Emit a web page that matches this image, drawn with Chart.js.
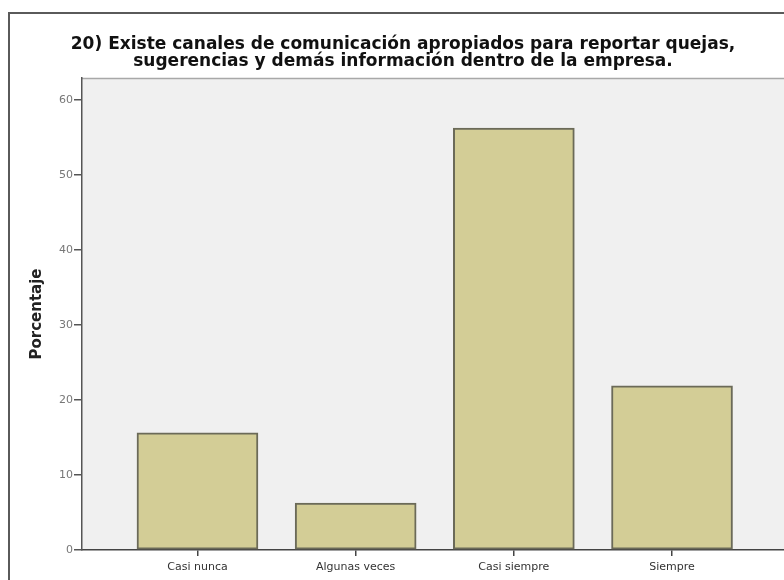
<!DOCTYPE html>
<html>
<head>
<meta charset="utf-8">
<script src="https://cdn.jsdelivr.net/npm/chart.js@4"></script>
<style>
  html, body { margin: 0; padding: 0; background: #fff; overflow: hidden; width: 784px; height: 580px; }
  #wrap { position: relative; width: 784px; height: 580px; overflow: hidden; }
  #frame { position: absolute; left: 8px; top: 12px; width: 900px; height: 700px; border: 2px solid #5a5a5a; box-sizing: border-box; }
  canvas { position: absolute; left: 0; top: 0; }
</style>
</head>
<body>
<div id="wrap">
  <div id="frame"></div>
  <canvas id="chart" width="806" height="580"></canvas>
</div>
<script>
// Data (percent of answers)
var categories = ["Casi nunca", "Algunas veces", "Casi siempre", "Siempre"];
var percentages = [15.63, 6.25, 56.25, 21.88];
var yTicks = [0, 10, 20, 30, 40, 50, 60];

var titleLines = [
  "20) Existe canales de comunicación apropiados para reportar quejas,",
  "sugerencias y demás información dentro de la empresa."
];

// Plot background with a light top edge
var plotBackground = {
  id: "plotBackground",
  beforeDraw: function (chart) {
    var a = chart.chartArea;
    var ctx = chart.ctx;
    ctx.save();
    ctx.fillStyle = "#f0f0f0";
    ctx.fillRect(a.left, a.top, a.right - a.left, a.bottom - a.top);
    ctx.strokeStyle = "#a8a8a8";
    ctx.lineWidth = 1.5;
    ctx.beginPath();
    ctx.moveTo(a.left, a.top + 0.5);
    ctx.lineTo(a.right, a.top + 0.5);
    ctx.stroke();
    ctx.restore();
  }
};

var points = categories.map(function (c, i) {
  return { x: i, y: percentages[i] };
});

var ctx = document.getElementById("chart").getContext("2d");
var chart = new Chart(ctx, {
  type: "bar",
  data: {
    datasets: [
      {
        data: points,
        backgroundColor: "#d3cd96",
        borderColor: "#6b6a58",
        borderWidth: 2,
        borderSkipped: false,
        barThickness: 121
      }
    ]
  },
  options: {
    responsive: false,
    animation: false,
    devicePixelRatio: 1,
    layout: { padding: 0 },
    plugins: {
      legend: { display: false },
      tooltip: { enabled: false },
      title: {
        display: true,
        text: titleLines,
        color: "#111",
        font: { family: "DejaVu Sans, sans-serif", size: 17, weight: "bold", lineHeight: 1.0 },
        padding: { top: 36, bottom: 8 }
      }
    },
    scales: {
      x: {
        type: "linear",
        offset: false,
        min: -0.73,
        max: 3.847,
        grid: { offset: false, drawOnChartArea: false, drawTicks: true, tickLength: 6, color: "#444", lineWidth: 1.5 },
        border: { color: "#444", width: 1.5 },
        afterBuildTicks: function (scale) {
          scale.ticks = categories.map(function (c, i) { return { value: i }; });
        },
        afterFit: function (scale) { scale.height = 30; },
        ticks: {
          color: "#333",
          padding: 5,
          font: { family: "DejaVu Sans, sans-serif", size: 11 },
          callback: function (v) { return categories[v]; }
        }
      },
      y: {
        min: 0,
        max: 62.93,
        grid: { drawOnChartArea: false, drawTicks: true, tickLength: 8, color: "#555", lineWidth: 1.5 },
        border: { color: "#555", width: 1.5 },
        afterBuildTicks: function (scale) {
          scale.ticks = yTicks.map(function (t) { return { value: t }; });
        },
        afterFit: function (scale) { scale.width = 82; },
        ticks: {
          color: "#777",
          padding: 1,
          font: { family: "DejaVu Sans, sans-serif", size: 11 }
        },
        title: {
          display: true,
          text: "Porcentaje",
          color: "#222",
          font: { family: "DejaVu Sans, sans-serif", size: 15, weight: "bold", lineHeight: 1.2 },
          padding: { top: 28, bottom: 0 }
        }
      }
    }
  },
  plugins: [plotBackground]
});
</script>
</body>
</html>
